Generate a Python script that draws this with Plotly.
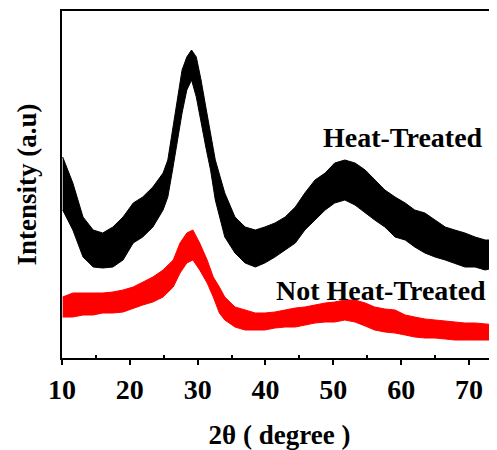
import plotly.graph_objects as go

# 2theta positions (degree) and band envelopes (arbitrary intensity units)
heat_x = [10.1, 11.6, 13.1, 14.6, 16.0, 17.5, 19.0, 20.5, 21.9, 23.4, 24.9, 25.6, 26.3, 27.0, 27.7,
          28.4, 29.1, 29.8, 30.5, 31.2, 31.9, 32.6, 34.0, 35.5, 37.0, 38.5, 39.9, 41.4, 42.9, 44.4,
          45.8, 47.3, 48.8, 50.2, 51.7, 53.2, 54.7, 56.1, 57.6, 59.1, 60.6, 62.0, 63.5, 65.0, 66.5,
          67.9, 69.4, 70.9, 72.4, 74.1]
heat_hi = [201, 175, 141, 128, 125, 131, 141, 155, 161, 171, 185, 198, 228, 258, 288,
           301, 308, 301, 278, 251, 225, 198, 165, 141, 131, 128, 131, 135, 141, 151,
           165, 178, 185, 195, 198, 195, 188, 178, 168, 161, 155, 148, 145, 138, 131,
           128, 125, 121, 118, 118]
heat_lo = [148, 128, 101, 91, 90, 91, 98, 115, 121, 131, 148, 161, 188, 218, 245,
           268, 278, 261, 235, 211, 188, 158, 121, 105, 95, 91, 95, 101, 108, 115,
           128, 138, 148, 155, 158, 153, 145, 138, 131, 121, 118, 111, 105, 101, 98,
           95, 91, 91, 88, 91]

raw_x = [10.1, 11.6, 13.1, 14.6, 16.0, 17.5, 19.0, 20.5, 21.9, 23.4, 24.9, 26.4, 27.4, 28.4, 29.3,
         30.3, 31.4, 32.3, 33.2, 34.0, 35.5, 37.0, 38.5, 39.9, 41.4, 42.9, 44.4, 45.8, 47.3, 48.8,
         50.2, 51.7, 53.2, 54.7, 56.1, 57.6, 59.1, 60.6, 62.0, 63.5, 65.0, 66.5, 67.9, 69.4, 70.9,
         72.4, 74.1]
raw_hi = [61, 65, 65, 65, 65, 66, 68, 71, 76, 81, 88, 98, 115, 125, 128,
          115, 98, 81, 71, 61, 51, 48, 45, 45, 46, 48, 50, 51, 53, 55,
          56, 58, 58, 55, 51, 49, 48, 43, 41, 39, 38, 37, 36, 35, 35,
          34, 33]
raw_lo = [41, 41, 43, 43, 45, 45, 46, 50, 53, 56, 61, 71, 85, 95, 98,
          88, 75, 61, 45, 38, 31, 28, 28, 28, 30, 31, 31, 33, 35, 36,
          36, 38, 36, 32, 28, 26, 25, 23, 21, 20, 20, 19, 18, 18, 18,
          18, 18]

x_ticks = [10, 20, 30, 40, 50, 60, 70]
x_minor = [15, 25, 35, 45, 55, 65]
labels = ["Heat-Treated", "Not Heat-Treated"]

FONT = "Liberation Serif"

fig = go.Figure()

def band(x, lo, hi, color, name):
    fig.add_trace(go.Scatter(x=x, y=lo, mode="lines", line=dict(color=color, width=1),
                             showlegend=False, hoverinfo="skip"))
    fig.add_trace(go.Scatter(x=x, y=hi, mode="lines", line=dict(color=color, width=1),
                             fill="tonexty", fillcolor=color, name=name, showlegend=False))

band(heat_x, heat_lo, heat_hi, "#000000", labels[0])
band(raw_x, raw_lo, raw_hi, "#ff0000", labels[1])

fig.add_annotation(x=60.2, y=221, text="<b>" + labels[0] + "</b>", showarrow=False,
                   font=dict(family=FONT, size=28, color="#000"))
fig.add_annotation(x=57.0, y=68, text="<b>" + labels[1] + "</b>", showarrow=False,
                   font=dict(family=FONT, size=28, color="#000"))

# the page has an 8px body margin, so the figure is sized to fit the 497x450 window
fig.update_layout(
    width=489, height=442,
    margin=dict(l=54, r=0, t=3, b=92, autoexpand=False),
    paper_bgcolor="white", plot_bgcolor="white",
    font=dict(family=FONT, color="#000"),
    xaxis=dict(
        range=[10, 74.13], tickvals=x_ticks, ticks="outside", ticklen=5, tickwidth=2,
        tickcolor="#000", showline=True, linewidth=2, linecolor="#000", mirror=True,
        showgrid=False, zeroline=False, automargin=False,
        tickfont=dict(family=FONT, size=28, color="#000", weight="bold"),
        minor=dict(tickvals=x_minor, ticks="inside", ticklen=3, tickwidth=1.5, tickcolor="#000"),
        title=dict(text="<b>2θ ( degree )</b>", font=dict(family=FONT, size=27, color="#000"),
                   standoff=22),
    ),
    yaxis=dict(
        range=[0, 347], showticklabels=False, ticks="", showline=True, linewidth=2,
        linecolor="#000", showgrid=False, zeroline=False, automargin=False,
        title=dict(text="<b>Intensity (a.u)</b>", font=dict(family=FONT, size=27, color="#000"),
                   standoff=16),
    ),
)

fig.write_html("out.html")
